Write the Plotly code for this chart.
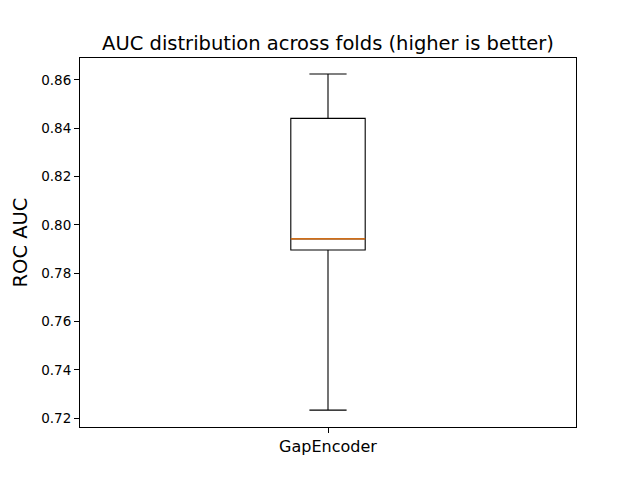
import plotly.graph_objects as go

# values
models = ['GapEncoder']
lower_whisker = [0.7233]
q1 = [0.7896]
median = [0.7942]
q3 = [0.8441]
upper_whisker = [0.8625]

positions = [1]
box_w = 0.15

fig = go.Figure()
fig.add_trace(go.Box(
    x=positions, q1=q1, median=median, q3=q3,
    lowerfence=lower_whisker, upperfence=upper_whisker,
    width=box_w, whiskerwidth=0.5,
    fillcolor='rgba(0,0,0,0)',
    line=dict(color='black', width=1.1),
    hoverinfo='y', showlegend=False,
))

# orange median line like matplotlib
for p, m in zip(positions, median):
    fig.add_shape(type='line', xref='x', yref='y',
                  x0=p - box_w / 2, x1=p + box_w / 2, y0=m, y1=m,
                  line=dict(color='#ff7f0e', width=1.4), layer='above')

# the page body adds an 8px offset, so margins are shifted to compensate
fig.update_layout(
    width=640, height=480,
    font_family='DejaVu Sans',
    plot_bgcolor='white', paper_bgcolor='white',
    margin=dict(t=50, b=61, l=72, r=72),
    title=dict(text='AUC distribution across folds (higher is better)',
               x=(72 + 248) / 640, xanchor='center', y=1 - 35 / 480, yanchor='middle',
               font=dict(size=19.5, color='black')),
)
fig.update_xaxes(
    range=[0.5, 1.5], tickvals=positions, ticktext=models,
    tickfont=dict(size=16, color='black'),
    showgrid=False, zeroline=False,
    showline=True, linecolor='black', linewidth=1.1, mirror=True,
    ticks='outside', ticklen=5, tickcolor='black',
)
fig.update_yaxes(
    range=[0.7163, 0.8691], dtick=0.02, tickformat='.2f',
    tickfont=dict(size=13.5, color='black'),
    title=dict(text='ROC AUC', font=dict(size=19.5, color='black'), standoff=8),
    showgrid=False, zeroline=False,
    showline=True, linecolor='black', linewidth=1.1, mirror=True,
    ticks='outside', ticklen=5, tickcolor='black',
)

fig.write_html('out.html')
